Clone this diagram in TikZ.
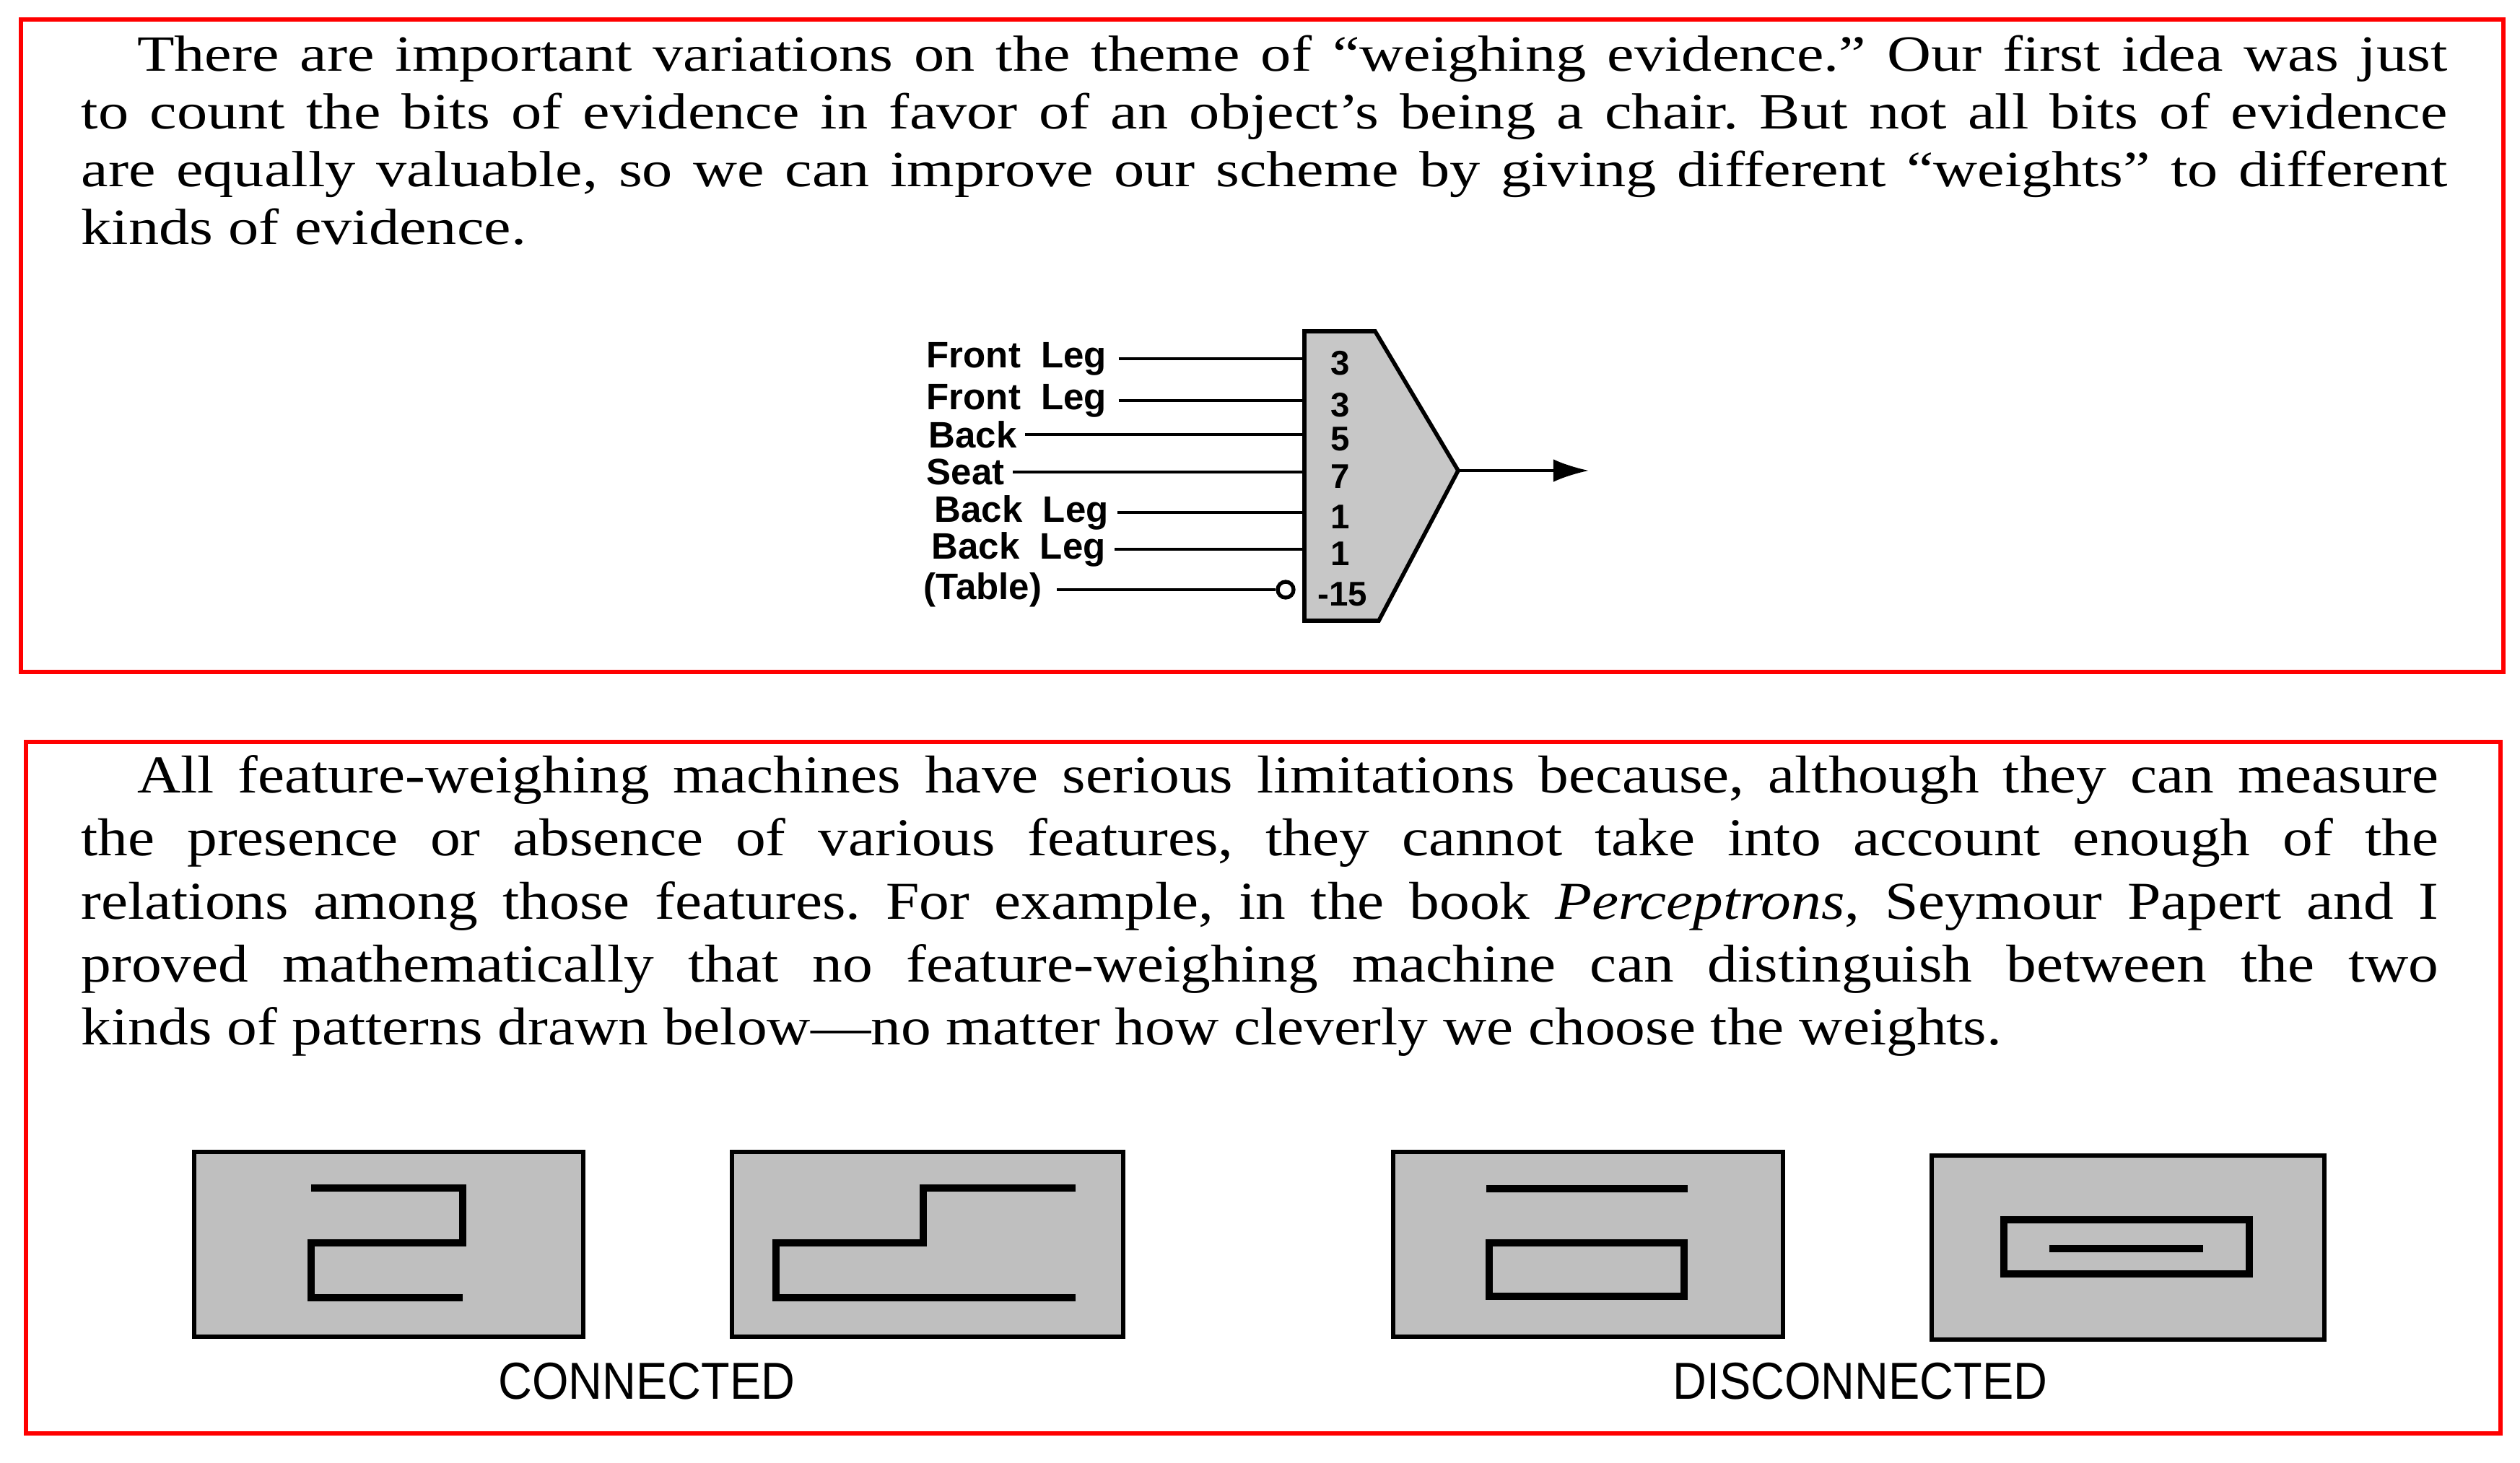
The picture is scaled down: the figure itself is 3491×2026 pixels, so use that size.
\documentclass[tikz,border=0pt]{standalone}
\usetikzlibrary{arrows.meta}
\usepackage{fontspec}
\setmainfont{Liberation Serif}[FakeStretch=1.2]
\newfontfamily\serifb{Liberation Serif}[FakeStretch=1.13]
\newfontfamily\sansf{Liberation Sans}
\begin{document}
\begin{tikzpicture}[x=0.01cm,y=-0.01cm,
  frame/.style={draw=red,line width=1.6pt},
  para/.style={anchor=north west,inner sep=0pt,align=justify},
  lab/.style={anchor=west,inner sep=0pt,font=\sansf\bfseries\fontsize{14.5}{16}\selectfont},
  num/.style={inner sep=0pt,font=\sansf\bfseries\fontsize{13.5}{15}\selectfont},
  wire/.style={line width=1.1pt},
  panel/.style={draw=black,fill=black!25,line width=1.6pt},
  pstroke/.style={line width=2.6pt},
  captext/.style={font=\sansf\fontsize{20.5}{22}\selectfont\addfontfeature{FakeStretch=0.9}}]
\useasboundingbox (0,0) rectangle (3491,2026);
\draw[frame] (29,27) rectangle (3468,931);
\draw[frame] (36,1028) rectangle (3464,1986);

\node[para,text width=3276*0.2845pt,font=\fontsize{20}{22.8}\selectfont] (p1) at (112,48) {\frenchspacing\hyphenpenalty=10000
\hspace*{22pt}There are important variations on the theme of “weighing evidence.” Our first idea was just\linebreak
to count the bits of evidence in favor of an object’s being a chair. But not all bits of evidence\linebreak
are equally valuable, so we can improve our scheme by giving different “weights” to different\linebreak
kinds of evidence.};

\node[para,text width=3264*0.2845pt,font=\serifb\fontsize{21}{24.8}\selectfont] (p2) at (112,1046) {\frenchspacing\hyphenpenalty=10000
\hspace*{22pt}All feature-weighing machines have serious limitations because, although they can measure\linebreak
the presence or absence of various features, they cannot take into account enough of the\linebreak
relations among those features. For example, in the book \emph{Perceptrons}, Seymour Papert and I\linebreak
proved mathematically that no feature-weighing machine can distinguish between the two\linebreak
kinds of patterns drawn below—no matter how cleverly we choose the weights.};

% weighing machine
\draw[line width=1.6pt,fill=black!22] (1807,459) coordinate (tl) -- (1905,459) -- (2020,652) coordinate (tip) -- (1910,860) -- (1807,860) -- cycle;
\coordinate (out) at (2201,652);
\draw[wire,-{Latex[length=14pt,width=9pt]}] (tip) -- (out);

\foreach \n/\t/\x/\y/\g/\w in {a/Front\ \ Leg/1283/497/16/3, b/Front\ \ Leg/1283/555/16/3, c/Back/1286/602/11/5, d/Seat/1283/654/11/7, e/Back\ \ Leg/1294/710/12/1, f/Back\ \ Leg/1290/761/12/1}{
  \node[lab] (\n) at (\x,\y) {\t};
  \coordinate (i\n) at (1807,\y);
  \draw[wire] ([xshift=\g*0.2845pt]\n.east) -- (i\n);
  \node[num] (w\n) at (1857,\y+6) {\w};
}
\node[lab] (g) at (1279,817) {(Table)};
\node[draw,circle,line width=1.5pt,minimum size=22*0.2845pt,inner sep=0pt] (ci) at (1781,817) {};
\draw[wire] ([xshift=20*0.2845pt]g.east) -- (ci.west);
\node[num] (wg) at (1860,823) {-15};

% panels
\draw[panel] (269,1596) rectangle (808,1852);
\draw[pstroke] (431,1646) -- (641,1646) -- (641,1722) -- (431,1722) -- (431,1798) -- (641,1798);
\draw[panel] (1014,1596) rectangle (1556,1852);
\draw[pstroke] (1490,1646) -- (1279,1646) -- (1279,1722) -- (1075,1722) -- (1075,1798) -- (1490,1798);
\draw[panel] (1930,1596) rectangle (2470,1852);
\draw[pstroke] (2059,1647) -- (2338,1647);
\draw[pstroke] (2063,1722) rectangle (2333,1796);
\draw[panel] (2676,1601) rectangle (3220,1856);
\draw[pstroke] (2776,1690) rectangle (3116,1765);
\draw[pstroke] (2839,1730) -- (3052,1730);

\node[captext] (c1) at (896,1914) {CONNECTED};
\node[captext] (c2) at (2577,1914) {DISCONNECTED};
\end{tikzpicture}
\end{document}
